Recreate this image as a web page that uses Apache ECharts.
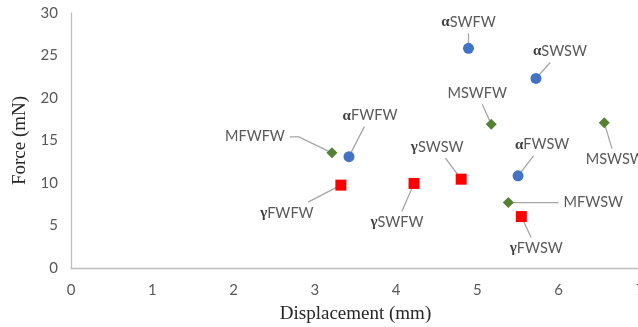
<!DOCTYPE html>
<html>
<head>
<meta charset="utf-8">
<script src="https://cdn.jsdelivr.net/npm/echarts@6/dist/echarts.min.js"></script>
<style>
  html, body { margin: 0; padding: 0; background: #fff; }
  #chart { width: 638px; height: 327px; }
</style>
</head>
<body>
<div id="chart"></div>
<script>
// alpha series (blue circles)
const alphaNames = ['FWFW', 'SWFW', 'SWSW', 'FWSW'];
const alphaX = [3.42, 4.89, 5.72, 5.50];
const alphaY = [13.1, 25.85, 22.3, 10.85];

// M series (green diamonds)
const mNames = ['FWFW', 'SWFW', 'SWSW', 'FWSW'];
const mX = [3.21, 5.17, 6.56, 5.38];
const mY = [13.55, 16.9, 17.1, 7.7];

// gamma series (red squares)
const gammaNames = ['FWFW', 'SWFW', 'SWSW', 'FWSW'];
const gammaX = [3.32, 4.22, 4.80, 5.54];
const gammaY = [9.75, 9.95, 10.45, 6.05];

const xTicks = [0, 1, 2, 3, 4, 5, 6, 7];
const yTicks = [0, 5, 10, 15, 20, 25, 30];

// label offsets from marker centre (px) -- layout only
const alphaOffsets = [[21, -41], [0, -26], [24, -27], [24, -31]];
const mOffsets = [[-77, -16], [-14, -31], [11, 37], [85, 0]];
const gammaOffsets = [[-54, 28], [-17, 39], [-24, -32], [15, 32]];

const labelFont = 'Lato, "Open Sans", sans-serif';
const serifFont = '"Liberation Serif", "DejaVu Serif", serif';
const greek = { fontFamily: serifFont, fontWeight: 'bold', fontSize: 15, color: '#404040' };
const plain = { fontFamily: labelFont, fontSize: 14.5, color: '#595959' };
const titleStyle = { fontFamily: serifFont, fontSize: 19, color: '#262626' };

const groups = [
  { prefix: 'α', xs: alphaX, ys: alphaY, names: alphaNames, offsets: alphaOffsets, symbol: 'circle', color: '#4472c4' },
  { prefix: 'M', xs: mX, ys: mY, names: mNames, offsets: mOffsets, symbol: 'diamond', color: '#548235' },
  { prefix: 'γ', xs: gammaX, ys: gammaY, names: gammaNames, offsets: gammaOffsets, symbol: 'rect', color: '#ff0000' }
];

// measure label widths so leader lines stop just short of the text
const ctx = document.createElement('canvas').getContext('2d');
function labelWidth(prefix, name) {
  if (prefix === 'M') {
    ctx.font = '14.5px ' + labelFont;
    return ctx.measureText('M' + name).width;
  }
  ctx.font = 'bold 15px ' + serifFont;
  const g = ctx.measureText(prefix).width;
  ctx.font = '14.5px ' + labelFont;
  return g + ctx.measureText(name).width;
}

// flat list for the leader-line layer
const leaderData = [];
const leaderInfo = [];
groups.forEach((g) => {
  g.xs.forEach((x, i) => {
    leaderData.push([x, g.ys[i]]);
    leaderInfo.push({ off: g.offsets[i], w: labelWidth(g.prefix, g.names[i]) });
  });
});

function leaderItem(params, api) {
  const info = leaderInfo[params.dataIndex];
  const c = api.coord([api.value(0), api.value(1)]);
  const lx = c[0] + info.off[0], ly = c[1] + info.off[1];
  const vx = c[0] - lx, vy = c[1] - ly;
  const hw = info.w / 2 + 5, hh = 11;
  const sx = vx ? hw / Math.abs(vx) : Infinity;
  const sy = vy ? hh / Math.abs(vy) : Infinity;
  let points;
  if (sx < sy) {
    const start = [lx + Math.sign(vx) * hw, ly];
    points = Math.abs(vy) < 3 ? [start, c] : [start, [start[0] + Math.sign(vx) * 9, ly], c];
  } else {
    points = [[lx + vx * sy, ly + vy * sy], c];
  }
  return {
    type: 'polyline',
    shape: { points: points },
    style: { stroke: '#a6a6a6', lineWidth: 1.3, fill: null }
  };
}

function makeSeries(g) {
  return {
    type: 'scatter',
    symbol: g.symbol,
    symbolSize: 11,
    z: 3,
    data: g.xs.map((x, i) => ({ value: [x, g.ys[i]], name: g.names[i] })),
    itemStyle: { color: g.color, opacity: 1 },
    label: {
      show: true,
      position: 'inside',
      formatter: (p) => (g.prefix === 'M' ? '{t|M' + p.name + '}' : '{g|' + g.prefix + '}{t|' + p.name + '}'),
      rich: { g: greek, t: plain }
    },
    labelLayout: (params) => {
      const o = g.offsets[params.dataIndex];
      return { dx: o[0], dy: o[1] };
    },
    emphasis: { disabled: true },
    animation: false
  };
}

const chart = echarts.init(document.getElementById('chart'));
chart.setOption({
  backgroundColor: '#fff',
  grid: { left: 71, top: 13, width: 569, height: 255, outerBoundsMode: 'none', containLabel: false },
  xAxis: {
    type: 'value',
    min: xTicks[0],
    max: xTicks[xTicks.length - 1],
    interval: 1,
    name: 'Displacement (mm)',
    nameLocation: 'middle',
    nameGap: 37,
    nameTextStyle: titleStyle,
    axisLine: { show: true, lineStyle: { color: '#bfbfbf', width: 1.3 } },
    axisTick: { show: false },
    splitLine: { show: false },
    axisLabel: { margin: 15, fontFamily: labelFont, fontSize: 15, color: '#595959', showMaxLabel: true }
  },
  yAxis: {
    type: 'value',
    min: yTicks[0],
    max: yTicks[yTicks.length - 1],
    interval: 5,
    name: 'Force (mN)',
    nameLocation: 'middle',
    nameGap: 38,
    nameTextStyle: titleStyle,
    axisLine: { show: true, lineStyle: { color: '#bfbfbf', width: 1.3 } },
    axisTick: { show: false },
    splitLine: { show: false },
    axisLabel: { margin: 13, fontFamily: labelFont, fontSize: 15, color: '#595959' }
  },
  series: [
    {
      type: 'custom',
      z: 2,
      silent: true,
      data: leaderData,
      renderItem: leaderItem,
      animation: false
    }
  ].concat(groups.map(makeSeries))
});
</script>
</body>
</html>
